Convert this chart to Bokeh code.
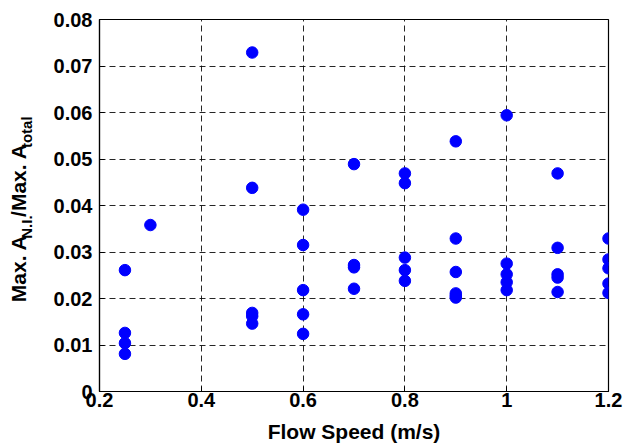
import math
from bokeh.plotting import figure
from bokeh.layouts import row
from bokeh.models import FixedTicker, ColumnDataSource
from bokeh.core.properties import value
from bokeh.embed import file_html
from bokeh.resources import INLINE

# ---- data ----
flow_speed = [0.25, 0.25, 0.25, 0.25,
              0.3,
              0.5, 0.5, 0.5, 0.5, 0.5,
              0.6, 0.6, 0.6, 0.6, 0.6,
              0.7, 0.7, 0.7, 0.7,
              0.8, 0.8, 0.8, 0.8, 0.8,
              0.9, 0.9, 0.9, 0.9, 0.9, 0.9,
              1.0, 1.0, 1.0, 1.0, 1.0,
              1.1, 1.1, 1.1, 1.1, 1.1,
              1.2, 1.2, 1.2, 1.2, 1.2]
amp_ratio = [0.0261, 0.0126, 0.0104, 0.0081,
             0.0358,
             0.0729, 0.0438, 0.0169, 0.0162, 0.0146,
             0.0391, 0.0315, 0.0218, 0.0166, 0.0124,
             0.0489, 0.0272, 0.0267, 0.0221,
             0.0469, 0.0448, 0.0288, 0.0261, 0.0238,
             0.0538, 0.0329, 0.0257, 0.0211, 0.0206, 0.0202,
             0.0594, 0.0275, 0.0252, 0.0235, 0.0218,
             0.0469, 0.0309, 0.0252, 0.0245, 0.0214,
             0.0329, 0.0284, 0.0265, 0.0232, 0.0212]

x_ticks = [0.2, 0.4, 0.6, 0.8, 1.0, 1.2]
x_tick_labels = ["0.2", "0.4", "0.6", "0.8", "1", "1.2"]
y_ticks = [0.0, 0.01, 0.02, 0.03, 0.04, 0.05, 0.06, 0.07, 0.08]
y_tick_labels = ["0", "0.01", "0.02", "0.03", "0.04", "0.05", "0.06", "0.07", "0.08"]

x_label = "Flow Speed (m/s)"
# y label pieces: (text, is_subscript)
y_label_parts = [("Max. A", False), ("N.I.", True), ("/Max. A", False), ("total", True)]

FONT = "Liberation Sans"
TICK_SIZE = 20
LABEL_SIZE = 21
SUB_SIZE = 15

W_TOTAL, H_TOTAL = 623, 445
LEFT_W = 42                      # narrow panel holding the rotated y label
B_LEFT, B_RIGHT, B_TOP, B_BOTTOM = 99 - LEFT_W, 15, 19, 54

p = figure(width=W_TOTAL - LEFT_W, height=H_TOTAL, output_backend="svg", toolbar_location=None,
           x_range=(0.2, 1.2), y_range=(0.0, 0.08),
           min_border_left=B_LEFT, min_border_right=B_RIGHT,
           min_border_top=B_TOP, min_border_bottom=B_BOTTOM)

p.background_fill_color = "white"
p.border_fill_color = "white"
p.outline_line_color = "black"
p.outline_line_width = 1.2

src = ColumnDataSource(dict(x=flow_speed, y=amp_ratio))
p.scatter("x", "y", source=src, size=11.5, fill_color="#0000FF", line_color="#0000FF")

# axes
for ax in (p.xaxis[0], p.yaxis[0]):
    ax.major_tick_in = 5
    ax.major_tick_out = 0
    ax.minor_tick_in = 0
    ax.minor_tick_out = 0
    ax.axis_line_color = "black"
    ax.axis_line_width = 1.2
    ax.major_tick_line_color = "black"
    ax.major_label_text_font = FONT
    ax.major_label_text_font_style = "bold"
    ax.major_label_text_font_size = f"{TICK_SIZE}px"
    ax.major_label_text_color = "black"

p.xaxis[0].ticker = FixedTicker(ticks=x_ticks)
p.xaxis[0].major_label_overrides = {t: l for t, l in zip(x_ticks, x_tick_labels)}
p.yaxis[0].ticker = FixedTicker(ticks=y_ticks)
p.yaxis[0].major_label_overrides = {t: l for t, l in zip(y_ticks, y_tick_labels)}
p.xaxis[0].major_label_standoff = 1
p.yaxis[0].major_label_standoff = 7

p.xaxis[0].axis_label = x_label
p.xaxis[0].axis_label_text_font = FONT
p.xaxis[0].axis_label_text_font_style = "bold"
p.xaxis[0].axis_label_text_font_size = f"{LABEL_SIZE}px"
p.xaxis[0].axis_label_text_color = "black"
p.xaxis[0].axis_label_standoff = 10

# grid
for g in (p.xgrid[0], p.ygrid[0]):
    g.grid_line_color = "black"
    g.grid_line_dash = "6 4"
    g.grid_line_width = 1
    g.grid_line_alpha = 0.85

# ---- left panel: rotated y label with subscripts ----
q = figure(width=LEFT_W, height=H_TOTAL, output_backend="svg", toolbar_location=None,
           x_range=(0, LEFT_W), y_range=(0, H_TOTAL),
           x_axis_location=None, y_axis_location=None,
           min_border=0, min_border_left=0, min_border_right=0,
           min_border_top=0, min_border_bottom=0)
q.outline_line_color = None
q.background_fill_color = "white"
q.border_fill_color = "white"
q.grid.visible = False

W = {'M': .833, 'a': .556, 'x': .556, '.': .278, ' ': .278, 'A': .722, 'N': .722,
     'I': .278, '/': .278, 't': .333, 'o': .611, 'l': .278}

def text_width(s, size):
    return sum(W.get(c, .6) for c in s) * size

widths = [text_width(t, SUB_SIZE if sub else LABEL_SIZE) for t, sub in y_label_parts]
total = sum(widths)
frame_mid_from_bottom = H_TOTAL - (B_TOP + (H_TOTAL - B_TOP - B_BOTTOM) / 2)
base_main, base_sub = 18, 26
main = dict(x=[], y=[], text=[])
subs = dict(x=[], y=[], text=[])
pos = frame_mid_from_bottom - total / 2 - 35
for (t, sub), w in zip(y_label_parts, widths):
    d = subs if sub else main
    d["x"].append(base_sub if sub else base_main)
    d["y"].append(pos)
    d["text"].append(t)
    pos += w * 1.12

for d, fs in ((main, LABEL_SIZE), (subs, SUB_SIZE)):
    q.text(x="x", y="y", text="text", source=ColumnDataSource(d), angle=math.pi / 2,
           text_align="left", text_baseline="alphabetic",
           text_font=value(FONT), text_font_style="bold",
           text_font_size=value(f"{fs}px"), text_color="black")

layout = row(q, p, spacing=0)
open("out.html", "w").write(file_html(layout, INLINE))
